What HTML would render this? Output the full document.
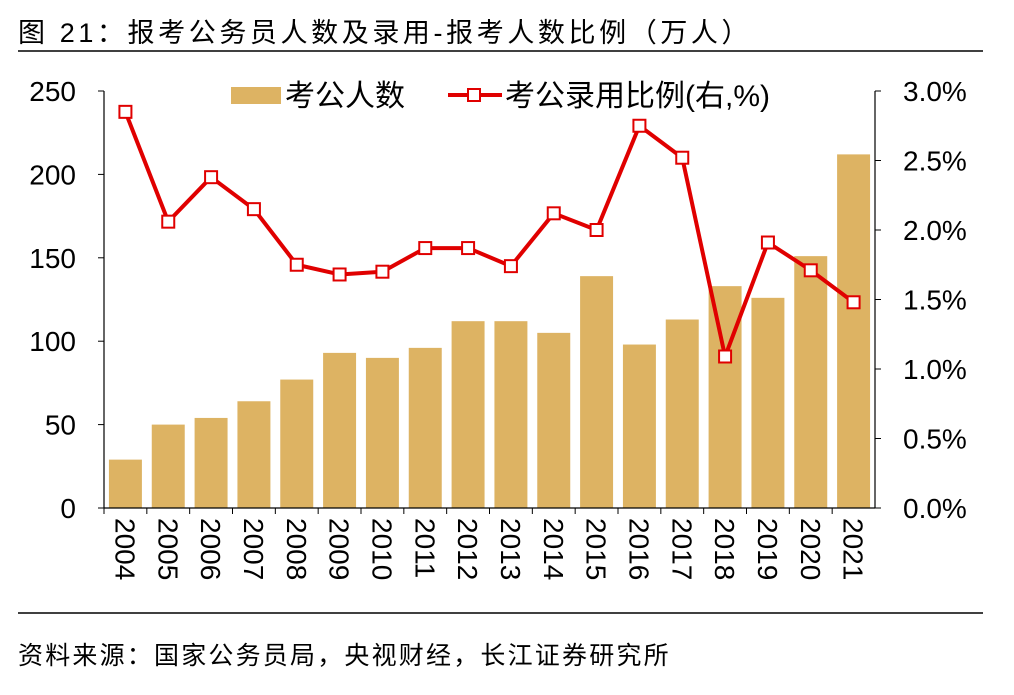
<!DOCTYPE html>
<html><head><meta charset="utf-8"><style>
body{margin:0;background:#fff;}
svg text{font-family:"Liberation Sans","Noto Sans CJK SC",sans-serif;}
</style></head><body>
<svg width="1014" height="690" viewBox="0 0 1014 690">
<text x="18" y="42" font-size="27" letter-spacing="3.6" fill="#000">图  21：报考公务员人数及录用-报考人数比例（万人）</text>
<line x1="18" y1="51" x2="983" y2="51" stroke="#000" stroke-width="1.5"/>
<line x1="18" y1="613" x2="983" y2="613" stroke="#000" stroke-width="1.5"/>
<text x="18" y="664" font-size="25" letter-spacing="2.2" fill="#000">资料来源：国家公务员局，央视财经，长江证券研究所</text>
<g id="plot"></g>
<g>
<rect x="231" y="87" width="50" height="17" fill="#DDB363"/>
<text x="285" y="106" font-size="30">考公人数</text>
<line x1="448" y1="95" x2="502" y2="95" stroke="#E00000" stroke-width="4"/>
<rect x="468" y="89" width="12" height="12" fill="#fff" stroke="#E00000" stroke-width="2"/>
<text x="505" y="106" font-size="30">考公录用比例(右,%)</text>
</g>
</svg>
<script>
const years=["2004","2005","2006","2007","2008","2009","2010","2011","2012","2013","2014","2015","2016","2017","2018","2019","2020","2021"];
const applicants=[29,50,54,64,77,93,90,96,112,112,105,139,98,113,133,126,151,212];
const ratio=[2.85,2.06,2.38,2.15,1.75,1.68,1.70,1.87,1.87,1.74,2.12,2.00,2.75,2.52,1.09,1.91,1.71,1.48];
const leftTicks=[0,50,100,150,200,250];
const rightTicks=[0,0.5,1.0,1.5,2.0,2.5,3.0];
const NS="http://www.w3.org/2000/svg";
const g=document.getElementById('plot');
const X0=104,X1=875,Y0=508,Y1=91;
const band=(X1-X0)/years.length;
const yL=v=>Y0-(v/250)*(Y0-Y1);
const yR=v=>Y0-(v/3)*(Y0-Y1);
const xC=i=>X0+band*(i+0.5);
function mk(t,a){const e=document.createElementNS(NS,t);for(const k in a)e.setAttribute(k,a[k]);g.appendChild(e);return e;}
applicants.forEach((v,i)=>{const r=mk('rect',{x:xC(i)-band*0.385,y:yL(v),width:band*0.77,height:Y0-yL(v),fill:'#DDB363'});

});
let l=mk('line',{x1:X0,y1:Y1,x2:X0,y2:Y0,stroke:'#000','stroke-width':1.2});


l=mk('line',{x1:X1,y1:Y1,x2:X1,y2:Y0,stroke:'#000','stroke-width':1.2});


l=mk('line',{x1:X0,y1:Y0,x2:X1,y2:Y0,stroke:'#000','stroke-width':1.2});


leftTicks.forEach(v=>{mk('line',{x1:X0-6,y1:yL(v),x2:X0,y2:yL(v),stroke:'#000'});
const t=mk('text',{x:76,y:yL(v)+10,'font-size':28,'text-anchor':'end'});t.textContent=v;

});
rightTicks.forEach(v=>{mk('line',{x1:X1,y1:yR(v),x2:X1+6,y2:yR(v),stroke:'#000'});
const t=mk('text',{x:903,y:yR(v)+10,'font-size':28});t.textContent=v.toFixed(1)+'%';

});
years.forEach((y,i)=>{mk('line',{x1:X0+band*i,y1:Y0,x2:X0+band*i,y2:Y0+6,stroke:'#000'});
const t=mk('text',{x:0,y:0,'font-size':28,transform:`translate(${xC(i)-10},518) rotate(90)`});t.textContent=y;

});
const p=mk('polyline',{points:ratio.map((v,i)=>xC(i)+','+yR(v)).join(' '),fill:'none',stroke:'#E00000','stroke-width':4,'stroke-linejoin':'round'});


ratio.forEach((v,i)=>{const m=mk('rect',{x:xC(i)-6,y:yR(v)-6,width:12,height:12,fill:'#fff',stroke:'#E00000','stroke-width':2});

});
</script>
</body></html>
